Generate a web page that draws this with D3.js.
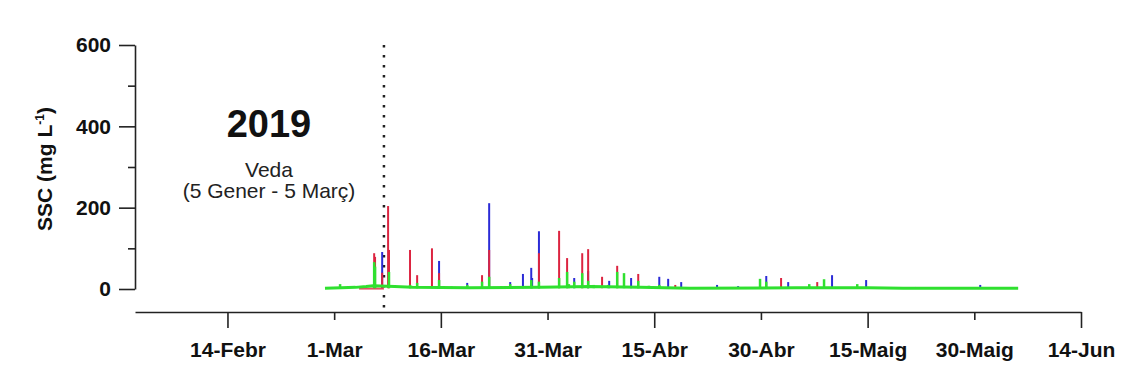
<!DOCTYPE html>
<html>
<head>
<meta charset="utf-8">
<script src="https://cdn.jsdelivr.net/npm/d3@7"></script>
<style>
  body { margin: 0; background: #fff; }
  svg { display: block; font-family: "Liberation Sans", Arial, sans-serif; }
</style>
</head>
<body>
<div id="chart"></div>
<script>
// x ticks (every 15 days, alternating long / short)
const tickDates = ["2019-02-14", "2019-03-01", "2019-03-16", "2019-03-31", "2019-04-15",
                   "2019-04-30", "2019-05-15", "2019-05-30", "2019-06-14"];
const tickLabels = ["14-Febr", "1-Mar", "16-Mar", "31-Mar", "15-Abr",
                    "30-Abr", "15-Maig", "30-Maig", "14-Jun"];
const yTicks = [0, 200, 400, 600];
const yMinorTicks = [100, 300, 500];
const banEnd = "2019-03-08T00";

// SSC peaks: [date-hour, mg/L]
const blueSpikes = [
  ["2019-03-07T18", 91], ["2019-03-15T18", 69], ["2019-03-19T17", 15], ["2019-03-22T19", 211],
  ["2019-03-25T18", 17], ["2019-03-27T13", 37], ["2019-03-28T17", 52], ["2019-03-28T20", 27],
  ["2019-03-29T19", 142], ["2019-04-03T18", 27], ["2019-04-05T17", 44], ["2019-04-08T16", 20],
  ["2019-04-11T18", 27], ["2019-04-15T17", 30], ["2019-04-16T23", 25], ["2019-04-18T19", 17],
  ["2019-04-23T20", 10], ["2019-04-26T19", 7], ["2019-04-30T18", 32], ["2019-05-03T20", 17],
  ["2019-05-10T00", 34], ["2019-05-14T19", 22], ["2019-05-30T20", 10]
];
const redSpikes = [
  ["2019-03-06T15", 88], ["2019-03-06T18", 79], ["2019-03-07T18", 40], ["2019-03-08T14", 204],
  ["2019-03-08T17", 96], ["2019-03-11T16", 96], ["2019-03-12T16", 34], ["2019-03-14T18", 100],
  ["2019-03-15T18", 39], ["2019-03-21T19", 34], ["2019-03-22T19", 96], ["2019-03-29T19", 88],
  ["2019-04-01T15", 143], ["2019-04-02T18", 76], ["2019-04-04T21", 88], ["2019-04-05T17", 98],
  ["2019-04-07T16", 30], ["2019-04-09T19", 57], ["2019-04-12T18", 37], ["2019-04-17T23", 10],
  ["2019-05-02T20", 27], ["2019-05-07T22", 17]
];
const greenSpikes = [
  ["2019-03-01T20", 12], ["2019-03-06T15", 66], ["2019-03-06T18", 55], ["2019-03-08T17", 42],
  ["2019-03-11T16", 10], ["2019-03-12T16", 15], ["2019-03-15T18", 22], ["2019-03-19T17", 10],
  ["2019-03-21T19", 18], ["2019-03-22T19", 30], ["2019-03-25T18", 12], ["2019-03-28T17", 22],
  ["2019-03-29T19", 18], ["2019-04-01T15", 27], ["2019-04-02T18", 42], ["2019-04-03T18", 18],
  ["2019-04-04T21", 39], ["2019-04-05T17", 20], ["2019-04-09T19", 42], ["2019-04-10T18", 39],
  ["2019-04-12T18", 20], ["2019-04-15T17", 10], ["2019-04-29T21", 25], ["2019-04-30T18", 18],
  ["2019-05-06T19", 12], ["2019-05-08T21", 24], ["2019-05-13T13", 12], ["2019-05-21T17", 5],
  ["2019-04-03T00", 12], ["2019-04-06T12", 10], ["2019-04-08T12", 10], ["2019-04-14T06", 8],
  ["2019-03-17T12", 6], ["2019-03-24T12", 7]
];
const greenBase = [
  ["2019-02-27T17", 2], ["2019-03-02T00", 3], ["2019-03-04T00", 4], ["2019-03-05T12", 6],
  ["2019-03-06T12", 8], ["2019-03-09T12", 6], ["2019-03-12T00", 4], ["2019-03-20T00", 3],
  ["2019-03-30T00", 4], ["2019-04-06T00", 6], ["2019-04-13T00", 4], ["2019-04-20T00", 2],
  ["2019-05-05T00", 3], ["2019-05-15T00", 3], ["2019-05-20T00", 2], ["2019-06-05T04", 2]
];
const redBase = [["2019-03-04T12", 1], ["2019-03-08T00", 1]];

const colors = { blue: "#2b2bd6", red: "#dc2440", green: "#2fe02f" };

const width = 1125, height = 383;
const parseDay = d3.timeParse("%Y-%m-%d");
const parseHour = d3.timeParse("%Y-%m-%dT%H");

const svg = d3.select("#chart").append("svg")
  .attr("width", width)
  .attr("height", height);

const x = d3.scaleTime()
  .domain([parseDay("2019-02-01"), parseDay("2019-06-14")])
  .range([135, 1081]);

const y = d3.scaleLinear()
  .domain([0, 600])
  .range([289, 45]);

const axisColor = "#222";

// y axis
const yAxis = svg.append("g")
  .attr("transform", "translate(135,0)")
  .call(d3.axisLeft(y).tickValues(yTicks).tickSize(16).tickSizeOuter(0).tickPadding(8));
svg.append("g")
  .attr("transform", "translate(135,0)")
  .call(d3.axisLeft(y).tickValues(yMinorTicks).tickSize(7).tickFormat(""))
  .select(".domain").remove();
svg.selectAll("g .tick line, g .domain").attr("stroke", axisColor).attr("stroke-width", 1.6);
yAxis.selectAll("text")
  .style("font-size", "21px")
  .style("font-weight", "bold")
  .attr("fill", "#111");

// x axis
const xAxis = svg.append("g")
  .attr("transform", "translate(0,312)")
  .call(d3.axisBottom(x)
    .tickValues(tickDates.map(parseDay))
    .tickFormat((d, i) => tickLabels[i])
    .tickSize(16)
    .tickSizeOuter(0));
xAxis.selectAll(".tick line")
  .attr("y2", (d, i) => i % 2 ? 8 : 16)
  .attr("stroke", axisColor).attr("stroke-width", 1.6);
xAxis.select(".domain").attr("stroke", axisColor).attr("stroke-width", 1.6);
xAxis.selectAll("text")
  .attr("y", 45).attr("dy", 0)
  .style("font-size", "21px")
  .style("font-weight", "bold")
  .attr("fill", "#111");

// y label
svg.append("text")
  .attr("transform", `translate(52,${(y(0) + y(600)) / 2 + 2}) rotate(-90)`)
  .attr("text-anchor", "middle")
  .style("font-size", "21px")
  .style("font-weight", "bold")
  .attr("fill", "#111")
  .html('SSC (mg L<tspan dy="-8" font-size="12">-1</tspan><tspan dy="8">)</tspan>');

// annotation
svg.append("text")
  .attr("x", 269).attr("y", 137)
  .attr("text-anchor", "middle")
  .style("font-size", "38px").style("font-weight", "bold")
  .attr("fill", "#111")
  .text("2019");
svg.append("text")
  .attr("x", 269).attr("y", 177)
  .attr("text-anchor", "middle")
  .style("font-size", "21px")
  .attr("fill", "#222")
  .text("Veda");
svg.append("text")
  .attr("x", 269).attr("y", 198)
  .attr("text-anchor", "middle")
  .style("font-size", "21px")
  .attr("fill", "#222")
  .text("(5 Gener - 5 Març)");

// end of ban, dotted
svg.append("line")
  .attr("x1", x(parseHour(banEnd))).attr("x2", x(parseHour(banEnd)))
  .attr("y1", 45).attr("y2", 312)
  .attr("stroke", "#222")
  .attr("stroke-width", 2.5)
  .attr("stroke-dasharray", "2.5,7.5");

const line = d3.line()
  .x(d => x(parseHour(d[0])))
  .y(d => y(d[1]));

function drawSpikes(data, color, w) {
  svg.append("g").selectAll("line")
    .data(data)
    .join("line")
    .attr("x1", d => x(parseHour(d[0])))
    .attr("x2", d => x(parseHour(d[0])))
    .attr("y1", y(2))
    .attr("y2", d => y(d[1]))
    .attr("stroke", color)
    .attr("stroke-width", w);
}

drawSpikes(blueSpikes, colors.blue, 2);
drawSpikes(redSpikes, colors.red, 2);
svg.append("path").datum(redBase)
  .attr("d", line).attr("fill", "none")
  .attr("stroke", colors.red).attr("stroke-width", 2).attr("opacity", 0.8);
drawSpikes(greenSpikes, colors.green, 2.5);
svg.append("path").datum(greenBase)
  .attr("d", line).attr("fill", "none")
  .attr("stroke", colors.green).attr("stroke-width", 3)
  .attr("stroke-linejoin", "round");
</script>
</body>
</html>
